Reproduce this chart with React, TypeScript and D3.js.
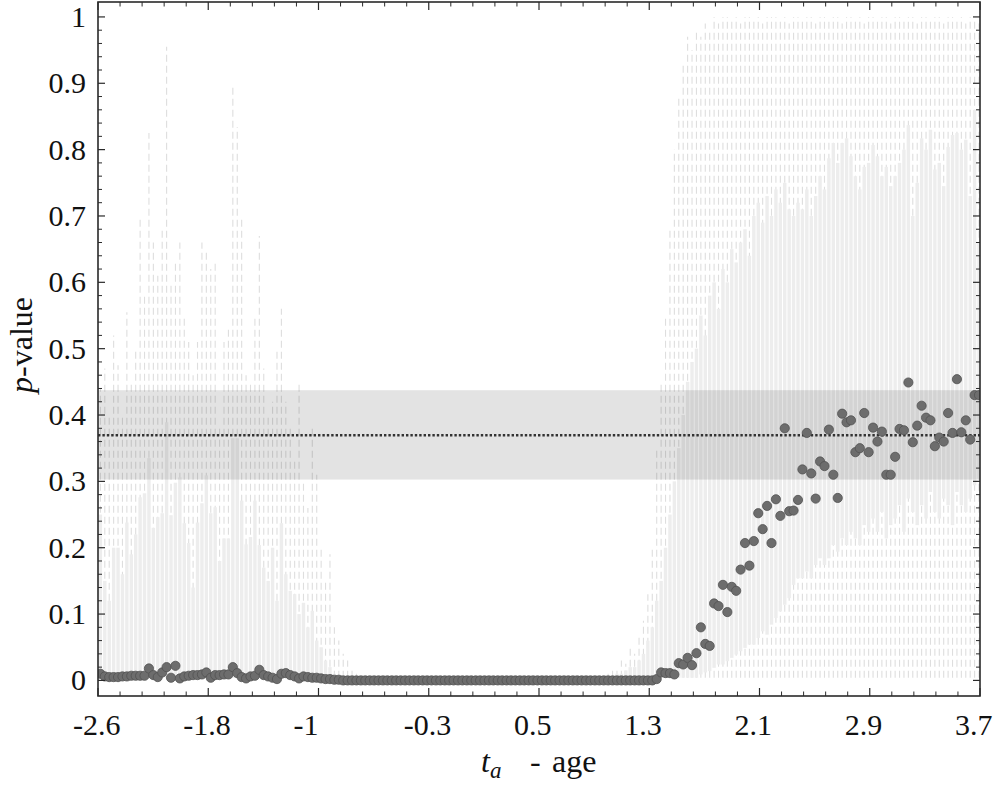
import React from 'react';
import * as d3 from 'd3';

const W = 995;
const H = 786;

const xTickLabels = ['-2.6', '-1.8', '-1', '-0.3', '0.5', '1.3', '2.1', '2.9', '3.7'];
const yTickValues = [0, 0.1, 0.2, 0.3, 0.4, 0.5, 0.6, 0.7, 0.8, 0.9, 1];
const yTickLabels = ['0', '0.1', '0.2', '0.3', '0.4', '0.5', '0.6', '0.7', '0.8', '0.9', '1'];

// p-value per age step (200 steps)
const pValues = [
  0.010, 0.006, 0.005, 0.005, 0.005, 0.006, 0.006, 0.007, 0.007, 0.007,
  0.007, 0.018, 0.008, 0.005, 0.012, 0.020, 0.004, 0.022, 0.003, 0.006,
  0.007, 0.008, 0.008, 0.009, 0.012, 0.004, 0.008, 0.008, 0.009, 0.009,
  0.020, 0.011, 0.005, 0.003, 0.006, 0.007, 0.016, 0.008, 0.006, 0.004,
  0.002, 0.010, 0.011, 0.008, 0.006, 0.003, 0.006, 0.005, 0.004, 0.004,
  0.003, 0.002, 0.002, 0.001, 0.001,
  0, 0, 0, 0, 0, 0, 0, 0, 0, 0,
  0, 0, 0, 0, 0, 0, 0, 0, 0, 0,
  0, 0, 0, 0, 0, 0, 0, 0, 0, 0,
  0, 0, 0, 0, 0, 0, 0, 0, 0, 0,
  0, 0, 0, 0, 0, 0, 0, 0, 0, 0,
  0, 0, 0, 0, 0, 0, 0, 0, 0, 0,
  0, 0, 0, 0, 0, 0, 0, 0, 0, 0,
  0, 0.002,
  0.012, 0.011, 0.011, 0.009, 0.026, 0.024, 0.034, 0.023, 0.041, 0.080,
  0.055, 0.052, 0.116, 0.112, 0.144, 0.103, 0.141, 0.135, 0.167, 0.207,
  0.173, 0.210, 0.252, 0.228, 0.263, 0.207, 0.273, 0.248, 0.380, 0.255,
  0.256, 0.272, 0.318, 0.373, 0.312, 0.274, 0.330, 0.323, 0.378, 0.310,
  0.275, 0.402, 0.389, 0.392, 0.344, 0.350, 0.403, 0.344, 0.381, 0.360,
  0.375, 0.310, 0.310, 0.337, 0.379, 0.377, 0.449, 0.359, 0.384, 0.414,
  0.396, 0.392, 0.353, 0.366, 0.360, 0.403, 0.373, 0.454, 0.374, 0.392,
  0.363, 0.430, 0.430,
];

// spread of the resampled p-values (left block starts at step 0)
const leftMax = [
  0.44, 0.47, 0.40, 0.52, 0.475, 0.40, 0.555, 0.45, 0.50, 0.70,
  0.58, 0.825, 0.66, 0.61, 0.68, 0.955, 0.60, 0.63, 0.66, 0.55,
  0.51, 0.46, 0.51, 0.66, 0.65, 0.62, 0.63, 0.38, 0.51, 0.53,
  0.896, 0.834, 0.70, 0.46, 0.45, 0.55, 0.67, 0.47, 0.40, 0.42,
  0.50, 0.56, 0.42, 0.38, 0.33, 0.45, 0.30, 0.26, 0.38, 0.31,
  0.20, 0.15, 0.19, 0.08, 0.06, 0.04, 0.03, 0.02, 0.01,
];
const leftQ3 = [
  0.25, 0.15, 0.12, 0.20, 0.20, 0.16, 0.238, 0.19, 0.22, 0.276,
  0.282, 0.335, 0.23, 0.246, 0.252, 0.389, 0.249, 0.298, 0.306, 0.237,
  0.207, 0.14, 0.238, 0.267, 0.309, 0.252, 0.261, 0.18, 0.214, 0.214,
  0.365, 0.365, 0.271, 0.205, 0.216, 0.271, 0.204, 0.17, 0.15, 0.20,
  0.12, 0.237, 0.16, 0.135, 0.13, 0.10, 0.117, 0.08, 0.105, 0.06,
  0.05, 0.03, 0.02, 0.01, 0.005, 0, 0, 0, 0,
];

// right block starts at step 115
const rightStart = 115;
const rightMax = [
  0.01, 0.015, 0.02, 0.03, 0.025, 0.05, 0.04, 0.065, 0.09, 0.13,
  0.20, 0.35, 0.45, 0.55, 0.68, 0.80, 0.88, 0.93, 0.97, 0.95,
  0.98, 0.97, 0.99, 0.98, 1.0, 0.99, 1.0, 1.0, 0.995, 1.0,
  0.99, 1.0, 1.0, 0.995, 1.0, 0.99, 1.0, 1.0, 1.0, 0.995,
  1.0, 0.99, 1.0, 1.0, 0.995, 1.0, 1.0, 0.99, 1.0, 1.0,
  0.995, 1.0, 1.0, 0.99, 1.0, 1.0, 0.995, 1.0, 0.99, 1.0,
  1.0, 0.995, 1.0, 1.0, 0.99, 1.0, 1.0, 0.995, 1.0, 1.0,
  0.99, 1.0, 1.0, 0.995, 1.0, 1.0, 0.99, 1.0, 1.0, 0.995,
  1.0, 0.99, 1.0, 0.995, 0.99,
];
const rightQ3 = [
  0.005, 0.005, 0.01, 0.01, 0.015, 0.02, 0.02, 0.03, 0.04, 0.06,
  0.08, 0.12, 0.15, 0.20, 0.25, 0.30, 0.35, 0.40, 0.45, 0.48,
  0.50, 0.55, 0.52, 0.58, 0.60, 0.56, 0.62, 0.60, 0.65, 0.63,
  0.66, 0.68, 0.64, 0.70, 0.72, 0.69, 0.73, 0.70, 0.74, 0.72,
  0.75, 0.71, 0.70, 0.72, 0.71, 0.74, 0.70, 0.73, 0.76, 0.74,
  0.787, 0.81, 0.78, 0.81, 0.817, 0.79, 0.76, 0.74, 0.774, 0.78,
  0.807, 0.79, 0.76, 0.774, 0.745, 0.76, 0.78, 0.80, 0.837, 0.70,
  0.75, 0.817, 0.80, 0.83, 0.77, 0.78, 0.745, 0.804, 0.822, 0.825,
  0.80, 0.815, 0.73, 0.86, 0.66,
];
const rightQ1 = [
  0, 0, 0, 0, 0, 0, 0, 0, 0, 0,
  0, 0, 0, 0, 0, 0, 0, 0, 0, 0,
  0, 0.005, 0.008, 0.01, 0.015, 0.02, 0.02, 0.025, 0.03, 0.035,
  0.04, 0.045, 0.05, 0.05, 0.06, 0.07, 0.065, 0.08, 0.09, 0.10,
  0.11, 0.12, 0.14, 0.15, 0.15, 0.16, 0.15, 0.17, 0.18, 0.17,
  0.18, 0.20, 0.19, 0.21, 0.20, 0.22, 0.21, 0.20, 0.23, 0.22,
  0.24, 0.22, 0.25, 0.21, 0.23, 0.24, 0.26, 0.22, 0.27, 0.25,
  0.23, 0.26, 0.24, 0.28, 0.25, 0.24, 0.27, 0.26, 0.23, 0.28,
  0.26, 0.25, 0.27, 0.29, 0.30,
];

const bandLow = 0.3027;
const bandHigh = 0.4374;
const meanP = 0.3695;

const FONT = 'Liberation Serif';

export default function App() {
  const left = 98;
  const right = 980;
  const top = 2;
  const bottom = 696;
  const x = d3.scaleLinear().domain([-2.6, 3.7]).range([left, right]);
  const y = d3.scaleLinear().domain([-0.0235, 1.0225]).range([bottom, top]);

  const tFirst = -2.583;
  const tLast = 3.693;
  const n = pValues.length;
  const tOf = (i: number) => tFirst + (i * (tLast - tFirst)) / (n - 1);

  const boxes: { i: number; q1: number; q3: number; max: number }[] = [];
  leftMax.forEach((m, k) => boxes.push({ i: k, q1: 0, q3: leftQ3[k], max: m }));
  rightMax.forEach((m, k) =>
    boxes.push({ i: rightStart + k, q1: rightQ1[k], q3: rightQ3[k], max: m })
  );

  const nMaj = xTickLabels.length - 1;
  const xMajor = d3.range(nMaj + 1).map((k) => -2.6 + (k * 6.3) / nMaj);
  const xMinor: number[] = [];
  for (let k = 0; k < nMaj; k++) {
    for (let j = 1; j < 5; j++) xMinor.push(xMajor[k] + (j * (xMajor[k + 1] - xMajor[k])) / 5);
  }
  const yMinor = d3
    .range(0, 51)
    .map((k) => k * 0.02)
    .filter((v) => Math.abs(v * 10 - Math.round(v * 10)) > 1e-6);

  const axisColor = '#2a2a2a';
  const textStyle = { fontFamily: FONT } as React.CSSProperties;

  return (
    <svg width={W} height={H} style={{ position: 'absolute', left: 0, top: 0, background: '#fff' }}>
      <rect x={0} y={0} width={W} height={H} fill="#fff" />
      <defs>
        <clipPath id="plotclip">
          <rect x={left} y={top} width={right - left} height={bottom - top} />
        </clipPath>
      </defs>
      <g clipPath="url(#plotclip)">
        {/* whiskers */}
        {boxes.map((b) => (
          <line
            key={'w' + b.i}
            x1={x(tOf(b.i))}
            x2={x(tOf(b.i))}
            y1={y(0.004)}
            y2={y(b.max)}
            stroke="#dedede"
            strokeWidth={1.1}
            strokeDasharray="7,4"
          />
        ))}
        {/* boxes */}
        {boxes.map((b) =>
          b.q3 > b.q1 ? (
            <rect
              key={'b' + b.i}
              x={x(tOf(b.i)) - 1.7}
              width={3.4}
              y={y(b.q3)}
              height={Math.max(0, y(b.q1 + 0.004) - y(b.q3))}
              fill="#ededed"
            />
          ) : null
        )}
        {/* confidence band */}
        <rect
          x={left}
          width={right - left}
          y={y(bandHigh)}
          height={y(bandLow) - y(bandHigh)}
          fill="#000"
          fillOpacity={0.11}
        />
        <line
          x1={left}
          x2={right}
          y1={y(meanP)}
          y2={y(meanP)}
          stroke="#333"
          strokeWidth={2.6}
          strokeDasharray="2.4,2"
        />
        {/* points */}
        {pValues.map((v, i) => (
          <circle
            key={'p' + i}
            cx={x(tOf(i))}
            cy={y(v)}
            r={4.6}
            fill="#6d6d6d"
            stroke="#525252"
            strokeWidth={0.8}
          />
        ))}
      </g>

      {/* frame */}
      <rect x={left} y={top} width={right - left} height={bottom - top} fill="none" stroke={axisColor} strokeWidth={1.6} />

      {/* x ticks */}
      {xMajor.map((t, k) => (
        <g key={'xm' + k}>
          <line x1={x(t)} x2={x(t)} y1={bottom} y2={bottom - 8} stroke={axisColor} strokeWidth={1.2} />
          <line x1={x(t)} x2={x(t)} y1={top} y2={top + 8} stroke={axisColor} strokeWidth={1.2} />
          <text x={x(t) - 25} y={735} textAnchor="start" style={textStyle} fontSize={30} fill="#111">
            {xTickLabels[k]}
          </text>
        </g>
      ))}
      {xMinor.map((t, k) => (
        <g key={'xn' + k}>
          <line x1={x(t)} x2={x(t)} y1={bottom} y2={bottom - 4.5} stroke={axisColor} strokeWidth={1} />
          <line x1={x(t)} x2={x(t)} y1={top} y2={top + 4.5} stroke={axisColor} strokeWidth={1} />
        </g>
      ))}

      {/* y ticks */}
      {yTickValues.map((v, k) => (
        <g key={'ym' + k}>
          <line x1={left} x2={left + 7} y1={y(v)} y2={y(v)} stroke={axisColor} strokeWidth={1.2} />
          <line x1={right} x2={right - 7} y1={y(v)} y2={y(v)} stroke={axisColor} strokeWidth={1.2} />
          <text x={86} y={y(v) + 10} textAnchor="end" style={textStyle} fontSize={30} fill="#111">
            {yTickLabels[k]}
          </text>
        </g>
      ))}
      {yMinor.map((v, k) => (
        <g key={'yn' + k}>
          <line x1={left} x2={left + 4} y1={y(v)} y2={y(v)} stroke={axisColor} strokeWidth={1} />
          <line x1={right} x2={right - 4} y1={y(v)} y2={y(v)} stroke={axisColor} strokeWidth={1} />
        </g>
      ))}

      {/* axis titles */}
      <text transform="translate(32,345) rotate(-90)" textAnchor="middle" style={textStyle} fontSize={32} fill="#111">
        <tspan fontStyle="italic">p</tspan>
        <tspan>-value</tspan>
      </text>
      <text y={772} style={textStyle} fontSize={32} fill="#111">
        <tspan x={481} fontStyle="italic">t</tspan>
        <tspan fontStyle="italic" fontSize={23} dy={6}>a</tspan>
        <tspan x={530} dy={-6}>-</tspan>
        <tspan x={552}>age</tspan>
      </text>
    </svg>
  );
}
